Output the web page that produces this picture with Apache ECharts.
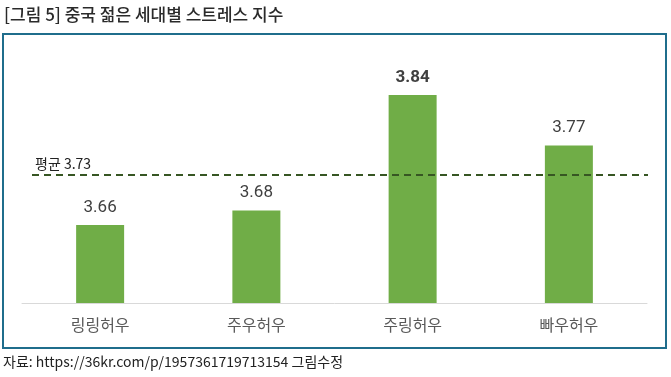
<!DOCTYPE html>
<html><head><meta charset="utf-8">
<script src="https://cdn.jsdelivr.net/npm/echarts@6/dist/echarts.min.js"></script>
<style>html,body{margin:0;padding:0;background:#fff}#c{width:671px;height:377px}</style>
</head><body><div id="c"></div>
<script>
const categories = ['링링허우', '주우허우', '주링허우', '빠우허우'];
const values = [3.66, 3.68, 3.84, 3.77];
const averageValue = 3.73;
const averageLabel = '평균 3.73';
const titleText = '[그림 5] 중국 젊은 세대별 스트레스 지수';
const sourceText = '자료: https://36kr.com/p/1957361719713154 그림수정';

const chart = echarts.init(document.getElementById('c'), null, {renderer: 'canvas'});
const KR = '"Noto Sans CJK KR", "Noto Sans", sans-serif';
chart.setOption({
  animation: false,
  graphic: [
    {type: 'rect', shape: {x: 3, y: 34, width: 663, height: 314}, style: {fill: 'none', stroke: '#1f6d8c', lineWidth: 2}, z: 0},
    {type: 'text', left: 4, top: 6, style: {text: titleText, font: '500 17px ' + KR, fill: '#2a2a2a'}},
    {type: 'text', left: 3, top: 355, style: {text: sourceText, font: '14px "Liberation Sans Narrow", ' + KR, fill: '#222'}}
  ],
  grid: {left: 22, right: 24, top: 40, bottom: 74},
  xAxis: {
    type: 'category', data: categories,
    axisLine: {lineStyle: {color: '#d9d9d9', width: 1}},
    axisTick: {show: false},
    axisLabel: {color: '#595959', fontSize: 16, margin: 14, fontFamily: KR}
  },
  yAxis: {type: 'value', min: 3.552, max: 3.916, show: false, splitLine: {show: false}},
  series: [{
    type: 'bar', barWidth: 48,
    data: values.map((v, i) => ({value: v, label: i === 2 ? {fontWeight: 'bold'} : {}})),
    itemStyle: {color: '#70ad47'},
    label: {show: true, position: 'top', distance: 9, color: '#404040', fontSize: 17, fontFamily: 'Roboto, "Liberation Sans", sans-serif', formatter: p => p.value.toFixed(2)},
    markLine: {
      silent: true, symbol: ['none', 'none'],
      lineStyle: {color: '#375623', width: 2, type: [7, 5]},
      label: {show: true, position: 'insideStartTop', formatter: averageLabel, color: '#222', fontSize: 14, fontFamily: KR, distance: [3, 4]},
      data: [[{x: 32, yAxis: averageValue}, {x: 648, yAxis: averageValue}]]
    }
  }]
});
</script></body></html>
